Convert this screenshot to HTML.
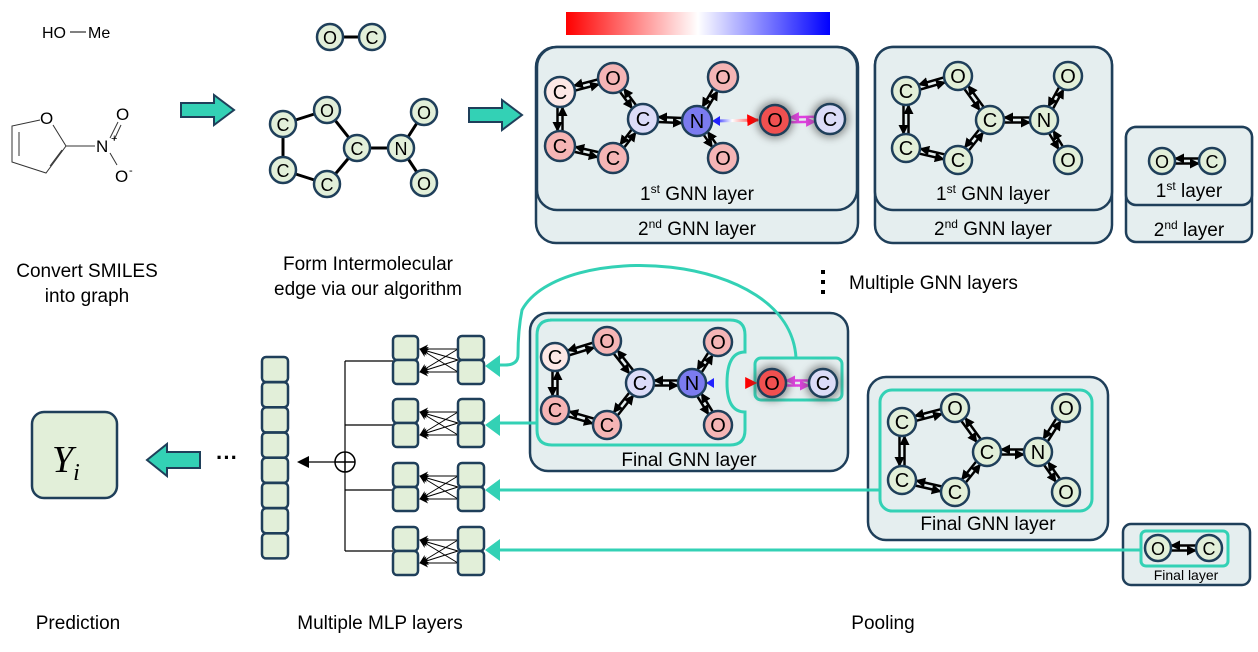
<!DOCTYPE html>
<html><head><meta charset="utf-8"><style>
body{margin:0;background:#fff;width:1258px;height:652px;overflow:hidden}
svg{display:block;font-family:"Liberation Sans",Arial,sans-serif}
</style></head><body>
<svg id="s" width="1258" height="652" viewBox="0 0 1258 652" xmlns="http://www.w3.org/2000/svg">
<defs>
<linearGradient id="bar" x1="0" x2="1"><stop offset="0" stop-color="#f00"/><stop offset="0.5" stop-color="#fff"/><stop offset="1" stop-color="#00f"/></linearGradient>
<linearGradient id="ne" x1="0" x2="1"><stop offset="0" stop-color="#22f"/><stop offset="0.4" stop-color="#fff"/><stop offset="1" stop-color="#f22"/></linearGradient>
<marker id="ah" viewBox="0 0 10 10" refX="9" refY="5" markerWidth="4" markerHeight="4" orient="auto"><path d="M0,0L10,5L0,10z" fill="#000"/></marker>
<marker id="ahk" viewBox="0 0 10 10" refX="9" refY="5" markerUnits="userSpaceOnUse" markerWidth="14" markerHeight="9" orient="auto"><path d="M0,0L10,5L0,10L3,5z" fill="#000"/></marker>
<marker id="ahm" viewBox="0 0 10 10" refX="9" refY="5" markerWidth="4" markerHeight="4" orient="auto"><path d="M0,0L10,5L0,10z" fill="#e040e0"/></marker>
<marker id="ahr" viewBox="0 0 10 10" refX="9" refY="5" markerWidth="4" markerHeight="4" orient="auto"><path d="M0,0L10,5L0,10z" fill="#f00"/></marker>
<filter id="sh" x="-1" y="-1" width="3" height="3"><feGaussianBlur stdDeviation="4"/></filter>
</defs>
<rect x="566" y="12" width="264" height="23" fill="url(#bar)"/>
<text x="42" y="38" font-size="16">HO</text><line x1="70" y1="32" x2="86" y2="32" stroke="#000" stroke-width="1"/><text x="88" y="38" font-size="16">Me</text>
<g stroke="#333" stroke-width="1" fill="none">
<path d="M40,120 L12,126 L12,162 L46,173 L66,146 L53,125"/>
<line x1="19" y1="132" x2="19" y2="156"/><line x1="50" y1="166" x2="62" y2="150"/>
<line x1="66" y1="146" x2="95" y2="146"/>
<line x1="110" y1="138" x2="118" y2="122"/><line x1="114" y1="140" x2="121" y2="125"/>
<line x1="110" y1="153" x2="117" y2="165"/>
</g>
<text x="40" y="124" font-size="17">O</text>
<text x="96" y="152" font-size="17">N</text><text x="111" y="142" font-size="11">+</text>
<text x="116" y="120" font-size="17">O</text>
<text x="115" y="182" font-size="17">O</text><text x="129" y="174" font-size="11">-</text>
<path d="M181,103 H214 V95 L234,110 L214,125 V117 H181Z" fill="#33d1b5" stroke="#1f3f5a" stroke-width="2"/>
<path d="M469,108 H502 V100 L522,115 L502,130 V122 H469Z" fill="#33d1b5" stroke="#1f3f5a" stroke-width="2"/>
<path d="M200,452 H167 V444 L147,460 L167,476 V468 H200Z" fill="#33d1b5" stroke="#1f3f5a" stroke-width="2"/>
<g fill="#e5eeef" stroke="#1f3f5a" stroke-width="2.5">
<rect x="536" y="47" width="322" height="196" rx="20"/>
<rect x="537" y="47" width="320" height="163" rx="20"/>
<rect x="875" y="47" width="237" height="196" rx="18"/>
<rect x="875" y="47" width="237" height="163" rx="18"/>
<rect x="1126" y="127" width="126" height="115" rx="10"/>
<rect x="1126" y="127" width="126" height="78" rx="10"/>
<rect x="530" y="313" width="318" height="158" rx="18"/>
<rect x="868" y="377" width="240" height="163" rx="18"/>
<rect x="1123" y="524" width="127" height="61" rx="8"/>
</g>
<g fill="none" stroke="#33d1b5" stroke-width="3">
<path d="M550,320 H730 Q745,320 745,335 V352 Q727,352 727,383 Q727,412 745,412 V430 Q745,445 730,445 H552 Q537,445 537,430 V335 Q537,320 552,320Z"/>
<rect x="755" y="358" width="87" height="42" rx="6"/>
<rect x="880" y="390" width="212" height="121" rx="12"/>
<rect x="1141" y="531" width="87" height="35" rx="5"/>
<path d="M796,358 C790,250 560,240 522,310 Q518,330 518,355 Q518,365 505,365 H495"/>
<path d="M537,423 H495"/>
<path d="M880,490 H495"/>
<path d="M1141,550 H495"/>
</g>
<g fill="#33d1b5">
<path d="M485,366 L500,355 V377Z"/><path d="M485,425 L500,414 V436Z"/>
<path d="M485,490 L500,479 V501Z"/><path d="M485,550 L500,539 V561Z"/>
</g>
<g font-size="19" text-anchor="middle">
<text x="697" y="200">1<tspan font-size="12" dy="-7">st</tspan><tspan dy="7"> GNN layer</tspan></text>
<text x="697" y="235">2<tspan font-size="12" dy="-7">nd</tspan><tspan dy="7"> GNN layer</tspan></text>
<text x="993" y="200">1<tspan font-size="12" dy="-7">st</tspan><tspan dy="7"> GNN layer</tspan></text>
<text x="993" y="235">2<tspan font-size="12" dy="-7">nd</tspan><tspan dy="7"> GNN layer</tspan></text>
<text x="1189" y="197">1<tspan font-size="12" dy="-7">st</tspan><tspan dy="7"> layer</tspan></text>
<text x="1189" y="236">2<tspan font-size="12" dy="-7">nd</tspan><tspan dy="7"> layer</tspan></text>
<text x="689" y="466">Final GNN layer</text>
<text x="988" y="530">Final GNN layer</text>
<text x="1186" y="580" font-size="14">Final layer</text>
<text x="87" y="277">Convert SMILES</text><text x="87" y="302">into graph</text>
<text x="368" y="270">Form Intermolecular</text><text x="368" y="295">edge via our algorithm</text>
<text x="78" y="629">Prediction</text>
<text x="380" y="629">Multiple MLP layers</text>
<text x="883" y="629">Pooling</text>
</g>
<text x="849" y="289" font-size="19">Multiple GNN layers</text>
<g fill="#000"><rect x="821" y="270" width="4" height="4"/><rect x="821" y="280" width="4" height="4"/><rect x="821" y="290" width="4" height="4"/></g>
<text x="216" y="465" font-size="22" font-weight="bold">···</text>
<rect x="32" y="412" width="85" height="86" rx="12" fill="#e2efd9" stroke="#1f3f5a" stroke-width="2.5"/>
<text x="52" y="472" font-size="38" font-style="italic" font-family="Liberation Serif,serif">Y<tspan font-size="24" dy="8">i</tspan></text>
<g stroke="#000" stroke-width="1.2" fill="none">
<path d="M345,361 V551"/><path d="M345,361 H393 M345,425 H393 M345,490 H393 M345,551 H393"/>
<line x1="335" y1="462" x2="305" y2="462"/>
</g>
<path d="M297,462 L309,456 V468Z"/>
<circle cx="345" cy="462" r="10" fill="#fff" stroke="#000" stroke-width="1.5"/>
<path d="M335,462H355M345,452V472" stroke="#000" stroke-width="1.5"/>
<g id="mlp"></g>
<g id="g"></g>
</svg>
<script>
var NS="http://www.w3.org/2000/svg",G=document.getElementById('g'),M=document.getElementById('mlp');
function el(p,t,a){var e=document.createElementNS(NS,t);for(var k in a)e.setAttribute(k,a[k]);p.appendChild(e);return e;}
function box(x,y,w,h){el(M,'rect',{x:x,y:y,width:w,height:h,rx:4,fill:'#e2efd9',stroke:'#1f3f5a','stroke-width':2.5});}
for(var i=0;i<8;i++)box(262,357+i*25.2,26,25);
[336,399,463,527].forEach(function(y){
 [y+13,y+36].forEach(function(a){[y+13,y+24,y+36].forEach(function(b){el(M,'line',{x1:458,y1:b,x2:420,y2:a,stroke:'#000','stroke-width':1,'marker-end':'url(#ahk)'});});});
 box(393,y,25,24);box(393,y+24,25,24);box(458,y,26,24);box(458,y+24,26,24);
});
function edge(a,b,r,k,mk){var dx=b[0]-a[0],dy=b[1]-a[1],L=Math.hypot(dx,dy),ux=dx/L,uy=dy/L,px=-uy*2.5,py=ux*2.5;
 var c=k||'#000',m=mk||'ah';
 el(G,'line',{x1:a[0]+ux*r+px,y1:a[1]+uy*r+py,x2:b[0]-ux*r+px,y2:b[1]-uy*r+py,stroke:c,'stroke-width':2.5,'marker-end':'url(#'+m+')'});
 el(G,'line',{x1:b[0]-ux*r-px,y1:b[1]-uy*r-py,x2:a[0]+ux*r-px,y2:a[1]+uy*r-py,stroke:c,'stroke-width':2.5,'marker-end':'url(#'+m+')'});}
function node(p,l,f,r,shadow){if(shadow)el(G,'circle',{cx:p[0],cy:p[1],r:r+4,fill:'#555',filter:'url(#sh)',opacity:0.6});
 el(G,'circle',{cx:p[0],cy:p[1],r:r,fill:f,stroke:'#1f3f5a','stroke-width':2.5});
 var t=el(G,'text',{x:p[0],y:p[1]+7,'font-size':r>13?20:18,'text-anchor':'middle'});t.textContent=l;}
var GR='#e2efd9',PK='#f5b5b5',PP='#fde8e6',LV='#dcdcf8',BL='#7b7bef',RD='#f05050';
var pg=[[283,124],[327,110],[357,148],[401,148],[424,112],[424,183],[283,170],[327,184]];
[[0,1],[1,2],[2,3],[3,4],[3,5],[0,6],[6,7],[7,2]].forEach(function(e){el(G,'line',{x1:pg[e[0]][0],y1:pg[e[0]][1],x2:pg[e[1]][0],y2:pg[e[1]][1],stroke:'#000','stroke-width':3});});
el(G,'line',{x1:330,y1:37,x2:372,y2:37,stroke:'#000','stroke-width':3});
['C','O','C','N','O','O','C','C'].forEach(function(l,i){node(pg[i],l,GR,13);});
node([330,37],'O',GR,13);node([372,37],'C',GR,13);
function mol(P,cols,r){var L=['C','O','C','N','O','O','C','C'];
 [[0,1],[1,2],[2,3],[3,4],[3,5],[0,6],[6,7],[7,2]].forEach(function(e){edge(P[e[0]],P[e[1]],r);});
 L.forEach(function(l,i){node(P[i],l,cols[i],r);});}
function pair(o,c,cols,r,shadow,pink){
 if(pink)edge(o,c,r,'#e040e0','ahm');else edge(o,c,r);
 node(o,'O',cols[0],r,shadow);node(c,'C',cols[1],r,shadow);}
function inter(n,o,r){el(G,'line',{x1:n[0]+r+3,y1:n[1],x2:o[0]-r-2,y2:o[1],stroke:'url(#ne)','stroke-width':3,'marker-end':'url(#ahr)'});
 el(G,'path',{d:'M'+(n[0]+r)+','+n[1]+'l8,-5v10z',fill:'#22f'});}
var colA=[PP,PK,LV,BL,PK,PK,PK,PK];
var A=[[560,92],[613,78],[643,119],[697,121],[723,77],[723,158],[560,146],[613,158]];
inter(A[3],[775,120],15);mol(A,colA,15);pair([775,120],[830,119],[RD,LV],15,true,true);
mol([[906,91],[958,76],[990,120],[1044,120],[1068,76],[1068,160],[906,148],[958,160]],[GR,GR,GR,GR,GR,GR,GR,GR],14);
pair([1162,161],[1212,161],[GR,GR],13);
var B=[[555,357],[607,341],[640,383],[692,383],[718,342],[718,425],[555,410],[607,425]];
inter(B[3],[772,383],14);mol(B,colA,14);pair([772,383],[823,383],[RD,LV],14,true,true);
mol([[902,422],[955,408],[987,452],[1038,452],[1066,408],[1066,492],[902,480],[955,492]],[GR,GR,GR,GR,GR,GR,GR,GR],14);
pair([1158,548],[1209,548],[GR,GR],13);
</script>
</body></html>
